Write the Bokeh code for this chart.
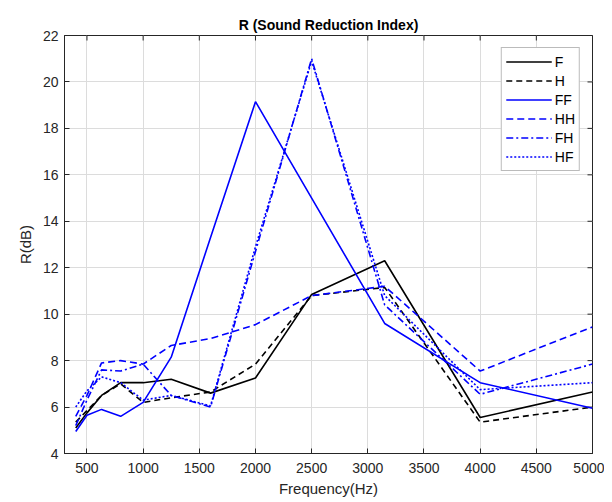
from bokeh.plotting import figure
from bokeh.models import Legend, LegendItem, FixedTicker, Range1d, Title
from bokeh.embed import file_html
from bokeh.resources import INLINE

freq = [400, 500, 630, 800, 1000, 1250, 1600, 2000, 2500, 3150, 4000, 5000]
F = [5.1, 5.75, 6.5, 7.05, 7.05, 7.2, 6.6, 7.25, 10.85, 12.3, 5.55, 6.65]
H = [5.35, 5.85, 6.5, 7.0, 6.2, 6.4, 6.65, 7.85, 10.8, 11.15, 5.35, 6.0]
FF = [4.95, 5.65, 5.9, 5.6, 6.2, 8.15, 13.3, 19.15, 15.0, 9.6, 7.05, 5.95]
HH = [5.6, 6.5, 7.9, 8.0, 7.85, 8.65, 8.95, 9.55, 10.8, 11.2, 7.55, 9.45]
FH = [5.2, 6.3, 7.6, 7.55, 7.85, 6.5, 6.0, 12.7, 21.0, 10.4, 6.55, 7.85]
HF = [6.0, 6.7, 7.3, 7.05, 6.3, 6.5, 6.05, 12.9, 20.9, 10.8, 6.75, 7.05]

x_ticks = [500, 1000, 1500, 2000, 2500, 3000, 3500, 4000, 4500, 5000]
y_ticks = [4, 6, 8, 10, 12, 14, 16, 18, 20, 22]
x_lim = [300, 5000]
y_lim = [4, 22]

FONT = "Liberation Sans"
TXT = "#262626"

p = figure(width=604, height=501, output_backend="svg", toolbar_location=None,
           x_range=Range1d(*x_lim), y_range=Range1d(*y_lim),
           min_border_left=64, min_border_right=12, min_border_top=35, min_border_bottom=48)
p.title = Title(text="R (Sound Reduction Index)", align="center", text_font=FONT,
                text_font_size="14px", text_font_style="bold", text_color="black",
                offset=0, standoff=6)
p.background_fill_color = "white"
p.border_fill_color = "white"
p.outline_line_color = TXT
p.outline_line_width = 1

for ax, ticks in ((p.xaxis[0], x_ticks), (p.yaxis[0], y_ticks)):
    ax.ticker = FixedTicker(ticks=ticks)
    ax.major_tick_in = 5
    ax.major_tick_out = 0
    ax.minor_tick_in = 0
    ax.minor_tick_out = 0
    ax.axis_line_color = TXT
    ax.major_tick_line_color = TXT
    ax.major_label_text_font = FONT
    ax.major_label_text_font_size = "14px"
    ax.major_label_text_color = TXT
    ax.axis_label_text_font = FONT
    ax.axis_label_text_font_size = "15px"
    ax.axis_label_text_font_style = "normal"
    ax.axis_label_text_color = TXT

p.xaxis[0].axis_label = "Frequency(Hz)"
p.xaxis[0].major_label_standoff = 9
p.xaxis[0].axis_label_standoff = 4
p.yaxis[0].axis_label = "R(dB)"
p.yaxis[0].major_label_standoff = 6
p.yaxis[0].axis_label_standoff = 6

# inward ticks on the top and right edges of the box (clipped to the frame)
p.scatter(x=x_ticks, y=[y_lim[1]] * len(x_ticks), marker="dash", angle=1.5708,
          size=10, line_color=TXT, line_width=1)
p.scatter(x=[x_lim[1]] * len(y_ticks), y=y_ticks, marker="dash",
          size=10, line_color=TXT, line_width=1)

p.xgrid.ticker = FixedTicker(ticks=x_ticks)
p.ygrid.ticker = FixedTicker(ticks=y_ticks)
p.grid.grid_line_color = "#dcdcdc"
p.grid.grid_line_width = 1

series = [
    ("F", F, "black", "solid"),
    ("H", H, "black", "6 4"),
    ("FF", FF, "blue", "solid"),
    ("HH", HH, "blue", "7 4"),
    ("FH", FH, "blue", "7 3 2 3"),
    ("HF", HF, "blue", "2 2"),
]
items = []
for name, ys, col, dash in series:
    r = p.line(freq, ys, line_color=col, line_width=1.6, line_dash=dash)
    items.append(LegendItem(label=name, renderers=[r]))

leg = Legend(items=items, location="top_right", margin=12, padding=4, spacing=0,
             label_height=19, glyph_height=19, glyph_width=46, label_standoff=3,
             label_text_font=FONT, label_text_font_size="14px", label_text_color="black",
             border_line_color="#777777", border_line_width=1, background_fill_alpha=1)
p.add_layout(leg)

open("out.html", "w").write(file_html(p, INLINE))
